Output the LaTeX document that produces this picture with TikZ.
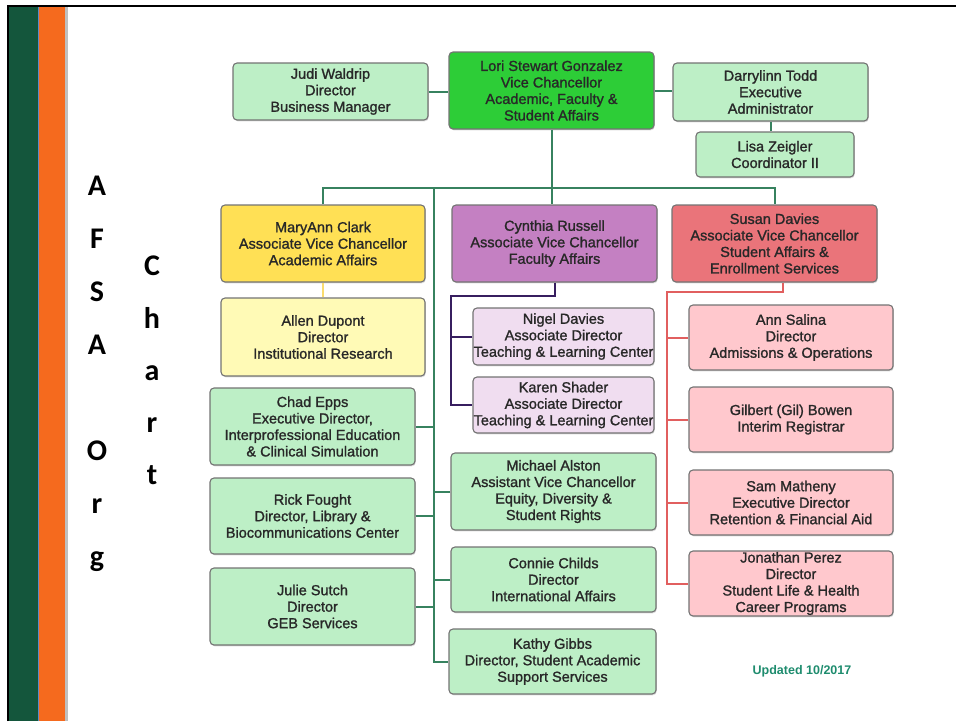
\documentclass[tikz,border=0pt]{standalone}
\usepackage{fontspec}
\setmainfont{Liberation Sans}
\newfontfamily\slidefont{Carlito}
\newfontfamily\chartfont{Liberation Sans}[BoldFont=Liberation Sans, BoldFeatures={FakeBold=1.3}]
\usepackage{tikz}
\usetikzlibrary{positioning, shadows}
\definecolor{stripeGreen}{RGB}{20,86,60}
\definecolor{stripeOrange}{RGB}{245,106,30}
\definecolor{stripeBlue}{RGB}{90,140,200}
\definecolor{boxGray}{RGB}{115,115,115}
\definecolor{textGray}{RGB}{40,40,40}
\definecolor{mint}{RGB}{189,239,198}
\definecolor{vcGreen}{RGB}{45,205,55}
\definecolor{avcYellow}{RGB}{255,224,85}
\definecolor{paleYellow}{RGB}{255,250,182}
\definecolor{avcPurple}{RGB}{196,128,194}
\definecolor{lavender}{RGB}{240,221,240}
\definecolor{avcRed}{RGB}{234,116,122}
\definecolor{rosePink}{RGB}{255,200,205}
\definecolor{lineGreen}{RGB}{55,130,95}
\definecolor{linePurple}{RGB}{55,30,95}
\definecolor{lineRed}{RGB}{225,95,95}
\definecolor{lineYellow}{RGB}{250,220,110}
\definecolor{dateGreen}{RGB}{30,140,110}
\newcommand\boxfont{\chartfont\bfseries\fontsize{14.5}{16.5}\selectfont}
\tikzstyle{person} = [rectangle, rounded corners=4pt, draw=boxGray, line width=1.1pt, text=textGray, align=center, inner sep=0pt, font=\boxfont, drop shadow={shadow xshift=0.8pt, shadow yshift=-1.3pt, opacity=0.3}]
\tikzstyle{sideletter} = [inner sep=0pt, anchor=base, font=\slidefont\bfseries\fontsize{30}{30}\selectfont]
\tikzset{
	bigbox/.style = {person, minimum width=205pt, minimum height=77pt},
	midbox/.style = {person, minimum width=204pt, minimum height=65pt},
	flatbox/.style = {person, minimum width=195pt, minimum height=57pt},
	subbox/.style = {person, minimum width=181pt, minimum height=57pt},
	greenline/.style = {line width=2pt, draw=lineGreen},
	purpleline/.style = {line width=2pt, draw=linePurple},
	redline/.style = {line width=2pt, draw=lineRed},
	yellowline/.style = {line width=2pt, draw=lineYellow}
}

\begin{document}
\begin{tikzpicture}[x=1pt, y=-1pt, node distance=82pt]
\useasboundingbox (0,0) rectangle (956,721);
%----------------------------------------------------------------------------
% Slide frame and side stripes
\fill[stripeGreen] (9,7) rectangle (38,721);
\fill[stripeOrange] (38,7) rectangle (65,721);
\fill[black!25] (65,7) rectangle (67.5,721);
\draw[stripeBlue, line width=0.8pt] (38,7) -- (38,721);
\draw[black, line width=2.4pt] (8,721) -- (8,6) -- (956,6);

\foreach \ch/\yy [count=\i] in {A/195,F/248,S/301,A/354,O/460,r/513,g/566}
	\node (orgLetter\i) [sideletter] at (97,\yy) {\ch};
\foreach \ch/\yy [count=\i] in {C/275,h/328,a/380,r/432,t/484}
	\node (chartLetter\i) [sideletter] at (152,\yy) {\ch};

%----------------------------------------------------------------------------
% Placement of chart nodes
\node (lori) [bigbox, fill=vcGreen] at (551.5,90.5) {Lori Stewart Gonzalez\\Vice Chancellor\\Academic, Faculty \&\\Student Affairs};
\node (judi) [flatbox, fill=mint] at (330.5,91.5) {Judi Waldrip\\Director\\Business Manager};
\node (darrylinn) [flatbox, fill=mint, minimum height=58pt] at (770.5,92) {Darrylinn Todd\\Executive\\Administrator};
\node (lisa) [person, fill=mint, minimum width=158pt, minimum height=45pt] at (775,154.5) {Lisa Zeigler\\Coordinator II};

\node (maryann) [bigbox, fill=avcYellow, minimum width=204pt] at (323,243.5) {MaryAnn Clark\\Associate Vice Chancellor\\Academic Affairs};
\node (cynthia) [bigbox, fill=avcPurple] at (554.5,243.5) {Cynthia Russell\\Associate Vice Chancellor\\Faculty Affairs};
\node (susan) [bigbox, fill=avcRed] at (774.5,243.5) {Susan Davies\\Associate Vice Chancellor\\Student Affairs \&\\Enrollment Services};

\node (allen) [bigbox, fill=paleYellow, minimum width=204pt, minimum height=78pt, below of = maryann, node distance=93.5pt] {Allen Dupont\\Director\\Institutional Research};

\node (chad) [bigbox, fill=mint] at (312.5,426.5) {Chad Epps\\Executive Director,\\Interprofessional Education\\\& Clinical Simulation};
\node (rick) [bigbox, fill=mint, minimum height=76pt, below of = chad, node distance=89.5pt] {Rick Fought\\Director, Library \&\\Biocommunications Center};
\node (julie) [bigbox, fill=mint, below of = rick, node distance=90.5pt] {Julie Sutch\\Director\\GEB Services};

\node (nigel) [subbox, fill=lavender] at (563.5,336.5) {Nigel Davies\\Associate Director\\Teaching \& Learning Center};
\node (karen) [subbox, fill=lavender, minimum height=56pt, below of = nigel, node distance=68.5pt] {Karen Shader\\Associate Director\\Teaching \& Learning Center};

\node (michael) [bigbox, fill=mint] at (553.5,491.5) {Michael Alston\\Assistant Vice Chancellor\\Equity, Diversity \&\\Student Rights};
\node (connie) [bigbox, fill=mint, minimum height=65pt, below of = michael, node distance=88pt] {Connie Childs\\Director\\International Affairs};
\node (kathy) [bigbox, fill=mint, minimum width=207pt, minimum height=65pt, below of = connie, node distance=82pt, xshift=-1pt] {Kathy Gibbs\\Director, Student Academic\\Support Services};

\node (ann) [midbox, fill=rosePink] at (791,337.5) {Ann Salina\\Director\\Admissions \& Operations};
\node (gil) [midbox, fill=rosePink, below of = ann] {Gilbert (Gil) Bowen\\Interim Registrar};
\node (sam) [midbox, fill=rosePink, below of = gil, node distance=83pt] {Sam Matheny\\Executive Director\\Retention \& Financial Aid};
\node (jonathan) [midbox, fill=rosePink, below of = sam, node distance=81pt] {Jonathan Perez\\Director\\Student Life \& Health\\Career Programs};

\node (updated) [font=\bfseries\fontsize{12.5}{14}\selectfont, text=dateGreen] at (802,671) {Updated 10/2017};

%----------------------------------------------------------------------------
% Lines
\coordinate (spineTop) at (434,189);
\coordinate (purpleTurn) at (451,296);
\coordinate (redTurn) at (667,292);

\draw [greenline] (judi.east) -- (judi.east -| lori.west);
\draw [greenline] (lori.east) -- (lori.east -| darrylinn.west);
\draw [greenline] (darrylinn.south) -- (darrylinn.south |- lisa.north);

\draw [greenline] (lori.south) -- (lori.south |- cynthia.north);
\draw [greenline] (maryann.north) -- ++(0,-16) -| (susan.north);
\draw [greenline] (spineTop) |- (kathy.west);

\draw [greenline] (chad.east) -- (chad.east -| spineTop);
\draw [greenline] (rick.east) -- (rick.east -| spineTop);
\draw [greenline] (julie.east) -- (julie.east -| spineTop);
\draw [greenline] (michael.west) -- (michael.west -| spineTop);
\draw [greenline] (connie.west) -- (connie.west -| spineTop);

\draw [yellowline] (maryann.south) -- (allen.north);

%----------------------------------------------------------------------------
% Faculty and student affairs branches
\draw [purpleline] (cynthia.south) |- (purpleTurn) |- (karen.west);
\draw [purpleline] (nigel.west) -- (nigel.west -| purpleTurn);

\draw [redline] ([xshift=8.5pt]susan.south) |- (redTurn) |- (jonathan.west);
\draw [redline] (ann.west) -- (ann.west -| redTurn);
\draw [redline] (gil.west) -- (gil.west -| redTurn);
\draw [redline] (sam.west) -- (sam.west -| redTurn);
\end{tikzpicture}
\end{document}
